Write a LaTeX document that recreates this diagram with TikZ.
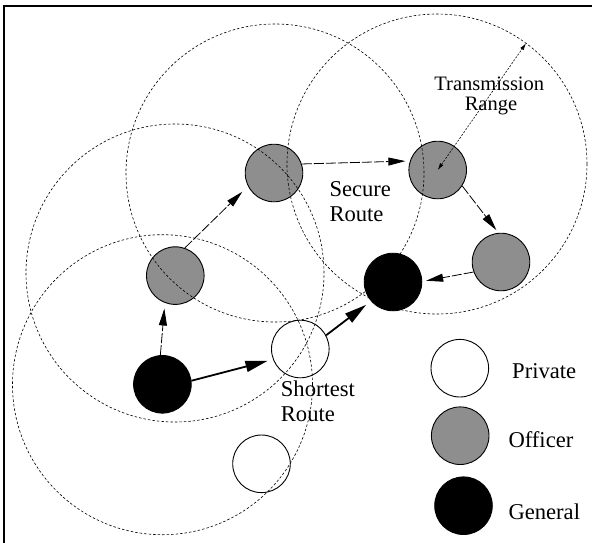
\documentclass[tikz,border=0pt]{standalone}
\usepackage{fontspec}
\setmainfont{Liberation Serif}
\usetikzlibrary{arrows.meta}
\definecolor{officergray}{RGB}{142,142,142}
\begin{document}
\begin{tikzpicture}[x=1pt,y=-1pt,
  unit/.style={circle,draw=black,line width=0.9pt,minimum size=57.6pt,inner sep=0pt},
  private/.style={unit,fill=white},
  officer/.style={unit,fill=officergray},
  general/.style={unit,fill=black},
  txrange/.style={line width=0.6pt,dash pattern=on 2.5pt off 2pt},
  secure/.style={line width=0.8pt,dash pattern=on 10pt off 2pt,-{Triangle[length=17pt,width=8pt]}},
  shortest/.style={line width=1.8pt,-{Triangle[length=22pt,width=11pt]}},
  bigtext/.style={font=\fontsize{22.6}{25}\selectfont,inner sep=0pt,anchor=base west},
  smalltext/.style={font=\fontsize{20.5}{22}\selectfont,inner sep=0pt,anchor=base},
  rangearrow/.style={line width=0.6pt,dash pattern=on 2pt off 1.5pt,
    {Latex[length=7pt,width=4pt]}-{Latex[length=7pt,width=4pt]}},
]
\useasboundingbox (0,0) rectangle (592,542);
% frame
\draw[line width=2.7pt] (4,548) -- (4,6) -- (598,6);

% units
\node[officer] (A) at (175.3,275.6) {};
\node[officer] (B) at (274,173) {};
\node[officer] (C) at (437.7,170) {};
\node[officer] (D) at (501,262) {};
\node[general] (E) at (393,282) {};
\node[general] (F) at (162.4,384.3) {};
\node[private] (G) at (300.3,349) {};
\node[private] (H) at (261.5,463.8) {};

% transmission ranges
\draw[txrange] (175,273) circle[radius=149pt];
\draw[txrange] (275,173) circle[radius=149pt];
\draw[txrange] (437,164) circle[radius=150pt];
\draw[txrange] (162.5,384.7) circle[radius=150pt];

% secure route
\draw[secure,shorten >=5.6pt] (F.94) -- (A.249.5);
\draw[secure,shorten >=7.8pt] (A.71.4) -- (B.207.8);
\draw[secure,shorten >=4.5pt] (B.18.7) -- (C.162.5);
\draw[secure,shorten >=3.5pt] (C.-33.7) -- (D.95.9);
\draw[secure,shorten >=4pt] (D.200.7) -- (E.1.7);

% shortest route
\draw[shortest,shorten >=5.7pt] (F.7.7) -- (G.201.6);
\draw[shortest,shorten >=6pt] (G.28) -- (E.221);

% transmission range arrow
\coordinate (rangeend) at (526,43.3);
\draw[rangearrow] (C.center) -- (rangeend);
\node[smalltext] (tr1) at (489.3,90.7) {Transmission};
\node[smalltext] (tr2) at (491,110) {Range};

% labels
\node[bigtext] (sec1) at (329.3,196.7) {Secure};
\node[bigtext] (sec2) at (329.3,221.7) {Route};
\node[bigtext] (sh1) at (280.7,396.7) {Shortest};
\node[bigtext] (sh2) at (280.7,421.7) {Route};

% legend
\node[private] (LP) at (459.8,368.2) {};
\node[officer] (LO) at (460.2,435.7) {};
\node[general] (LG) at (463.5,505.7) {};
\node[bigtext] (LPt) at (512,378.3) {Private};
\node[bigtext] (LOt) at (508.3,447.7) {Officer};
\node[bigtext] (LGt) at (508.3,519.3) {General};
\end{tikzpicture}
\end{document}
